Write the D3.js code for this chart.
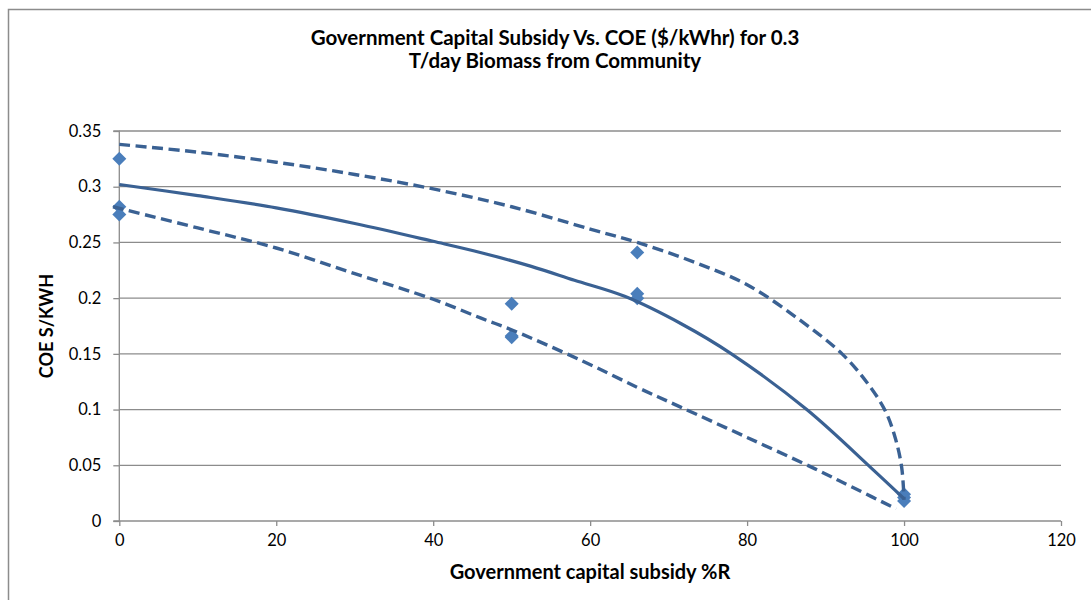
<!DOCTYPE html>
<html>
<head>
<meta charset="utf-8">
<script src="https://cdn.jsdelivr.net/npm/d3@7"></script>
<style>
  html, body { margin: 0; padding: 0; background: #fff; }
  svg { display: block; font-family: Lato, "Open Sans", sans-serif; }
</style>
</head>
<body>
<svg id="chart" width="1091" height="600"></svg>
<script>
// Observed COE values at each subsidy level
const subsidyPct = [0, 0, 0, 50, 50, 50, 66, 66, 66, 100, 100, 100];
const coeValues  = [0.325, 0.282, 0.275, 0.195, 0.166, 0.165, 0.241, 0.204, 0.200, 0.024, 0.021, 0.018];

// Mean trend curve
const trendX = [0, 10, 20, 30, 40, 46, 52.5, 58, 64.4, 71.6, 78, 87.6, 95.9, 100];
const trendY = [0.302, 0.292, 0.281, 0.267, 0.251, 0.241, 0.2285, 0.216, 0.2016, 0.177, 0.150, 0.100, 0.047, 0.020];

// Upper bound curve
const upperX = [0, 10, 20, 30, 40, 50, 60, 66, 73, 80, 86.6, 92.1, 95.2, 97.6, 98.9, 99.7, 100];
const upperY = [0.338, 0.331, 0.322, 0.311, 0.298, 0.282, 0.262, 0.250, 0.233, 0.212, 0.181, 0.150, 0.125, 0.099, 0.074, 0.048, 0.019];

// Lower bound curve
const lowerX = [-0.8, 10, 20, 30, 40, 46.1, 50.2, 58.9, 66, 71.6, 80, 88.6, 93.5, 99];
const lowerY = [0.282, 0.263, 0.245, 0.222, 0.199, 0.182, 0.171, 0.144, 0.120, 0.102, 0.075, 0.047, 0.030, 0.011];

const xTicks = [0, 20, 40, 60, 80, 100, 120];
const yTicks = [0, 0.05, 0.1, 0.15, 0.2, 0.25, 0.3, 0.35];

const titleLines = ["Government Capital Subsidy Vs. COE ($/kWhr) for 0.3", "T/day Biomass from Community"];
const xTitle = "Government capital subsidy %R";
const yTitle = "COE S/KWH";

const svg = d3.select("#chart");
const plotLeft = 119.3, plotRight = 1061, plotTop = 131, plotBottom = 521;

const x = d3.scaleLinear().domain([0, 120]).range([plotLeft, plotRight]);
const y = d3.scaleLinear().domain([0, 0.35]).range([plotBottom, plotTop]);

const gridColor = "#8c8c8c";
const lineColor = "#3a6193";
const markerColor = "#4a7ebb";

// Outer chart frame
svg.append("rect")
  .attr("x", 8.5).attr("y", 9.5)
  .attr("width", 1200).attr("height", 700)
  .attr("fill", "none").attr("stroke", gridColor).attr("stroke-width", 1.5);

// Horizontal gridlines
svg.append("g").selectAll("line").data(yTicks.filter(d => d > 0)).join("line")
  .attr("x1", plotLeft).attr("x2", plotRight)
  .attr("y1", d => y(d)).attr("y2", d => y(d))
  .attr("stroke", gridColor).attr("stroke-width", 1.3);

// Y axis
const yAxis = svg.append("g")
  .attr("transform", `translate(${plotLeft},0)`)
  .call(d3.axisLeft(y).tickValues(yTicks).tickFormat(d => String(+d.toFixed(2))).tickSize(6).tickPadding(12));
// X axis
const xAxis = svg.append("g")
  .attr("transform", `translate(0,${plotBottom})`)
  .call(d3.axisBottom(x).tickValues(xTicks).tickFormat(d3.format("d")).tickSize(5).tickPadding(8));

[yAxis, xAxis].forEach(g => {
  g.select(".domain").attr("stroke", gridColor).attr("stroke-width", 1.3);
  g.selectAll(".tick line").attr("stroke", gridColor).attr("stroke-width", 1.3);
  g.selectAll(".tick text").attr("fill", "#000").style("font-size", "16.5px").style("font-family", "Lato, sans-serif");
});
yAxis.select(".domain").attr("d", `M-6,${plotBottom}H0V${plotTop}H-6`);
xAxis.select(".domain").attr("d", `M${plotLeft},0H${plotRight}`);

// Data markers (diamonds)
const pts = subsidyPct.map((s, i) => [s, coeValues[i]]);
const r = 7;
svg.append("g").selectAll("path").data(pts).join("path")
  .attr("d", d => {
    const cx = x(d[0]), cy = y(d[1]);
    return `M${cx},${cy - r}L${cx + r},${cy}L${cx},${cy + r}L${cx - r},${cy}Z`;
  })
  .attr("fill", markerColor);

// Curves
const lineGen = d3.line().x(d => x(d[0])).y(d => y(d[1])).curve(d3.curveCatmullRom.alpha(0.5));
const zip = (a, b) => a.map((v, i) => [v, b[i]]);

svg.append("path").datum(zip(upperX, upperY))
  .attr("d", lineGen).attr("fill", "none")
  .attr("stroke", lineColor).attr("stroke-width", 3.4).attr("stroke-dasharray", "11,5.5");
svg.append("path").datum(zip(lowerX, lowerY))
  .attr("d", lineGen).attr("fill", "none")
  .attr("stroke", lineColor).attr("stroke-width", 3.4).attr("stroke-dasharray", "11,5.5");
svg.append("path").datum(zip(trendX, trendY))
  .attr("d", lineGen).attr("fill", "none")
  .attr("stroke", lineColor).attr("stroke-width", 3.2);

// Title
svg.append("g").selectAll("text").data(titleLines).join("text")
  .attr("x", 555).attr("y", (d, i) => 45 + i * 23)
  .attr("text-anchor", "middle")
  .style("font-size", "20.5px").style("font-weight", "bold")
  .text(d => d);

// Axis titles
svg.append("text")
  .attr("x", 590).attr("y", 579)
  .attr("text-anchor", "middle")
  .style("font-size", "20px").style("font-weight", "bold")
  .text(xTitle);

svg.append("text")
  .attr("transform", "translate(53,326) rotate(-90)")
  .attr("text-anchor", "middle")
  .style("font-size", "18px").style("font-weight", "bold")
  .text(yTitle);
</script>
</body>
</html>
